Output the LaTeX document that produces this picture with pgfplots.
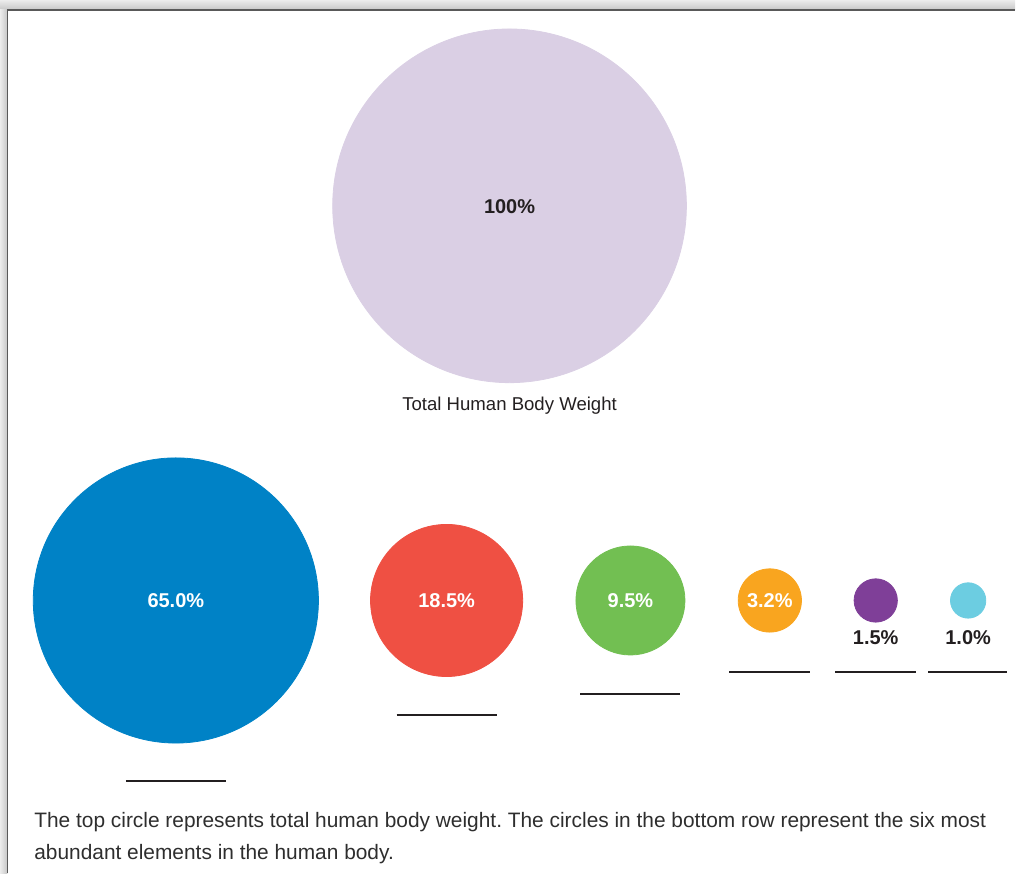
\documentclass[border=0pt]{standalone}
\usepackage{pgfplots}
\pgfplotsset{compat=1.18}
\usepackage{pgfplotstable}
\usepackage{fontspec}
\setmainfont{Liberation Sans}
\frenchspacing
\definecolor{lav}{HTML}{DACFE4}
\definecolor{cO}{HTML}{0082C6}
\definecolor{cC}{HTML}{EF5043}
\definecolor{cH}{HTML}{72BF52}
\definecolor{cN}{HTML}{F9A51F}
\definecolor{cCa}{HTML}{7F3F98}
\definecolor{cP}{HTML}{6CCDE1}
\definecolor{ink}{HTML}{231F20}
\definecolor{capt}{HTML}{2E2E2E}

% x, y in pixel units (y from bottom); pct = share of body weight
\pgfplotstableread{
x     y    pct   cls
510   668  100   T
176   273  65.0  O
447   273  18.5  C
631   273  9.5   H
770.5 273  3.2   N
876.5 273  1.5   Ca
969   273  1.0   P
}\circles

\begin{document}
\begin{tikzpicture}
\begin{axis}[
  width=508pt, height=437pt, scale only axis,
  xmin=0, xmax=1016, ymin=0, ymax=874,
  hide axis, clip=false,
]
% frame with shadow
\fill[top color=gray!15, bottom color=gray!45] (axis cs:0,864) rectangle (axis cs:1016,874);
\fill[left color=gray!15, right color=gray!45] (axis cs:0,0) rectangle (axis cs:7.5,864);
\draw[line width=0.9pt, black!65] (axis cs:7.5,0) -- (axis cs:7.5,864) -- (axis cs:1016,864);

\addplot[scatter, only marks, mark=*,
  point meta=explicit symbolic,
  scatter/classes={
    T={draw=lav, fill=lav},
    O={draw=cO, fill=cO},
    C={draw=cC, fill=cC},
    H={draw=cH, fill=cH},
    N={draw=cN, fill=cN},
    Ca={draw=cCa, fill=cCa},
    P={draw=cP, fill=cP}},
  visualization depends on={88.5*sqrt(\thisrow{pct}/100) \as \rad},
  scatter/@pre marker code/.append style={/tikz/mark size=\rad pt},
] table[x=x, y=y, meta=cls] {\circles};

% answer lines
\addplot[ink, line width=1pt] coordinates {(126,92.5) (226,92.5)};
\addplot[ink, line width=1pt] coordinates {(397,158.5) (497,158.5)};
\addplot[ink, line width=1pt] coordinates {(581,179.5) (681,179.5)};
\addplot[ink, line width=1pt] coordinates {(730,201.5) (811,201.5)};
\addplot[ink, line width=1pt] coordinates {(836,201.5) (917,201.5)};
\addplot[ink, line width=1pt] coordinates {(929,201.5) (1008,201.5)};

\coordinate (lT) at (axis cs:510,667);
\coordinate (lO) at (axis cs:176,273);
\coordinate (lC) at (axis cs:447,273);
\coordinate (lH) at (axis cs:631,273);
\coordinate (lN) at (axis cs:770.5,273);
\coordinate (lCa) at (axis cs:876.5,236);
\coordinate (lP) at (axis cs:969,236);
\coordinate (lTitle) at (axis cs:510,468);
\coordinate (lCap1) at (axis cs:34,46);
\coordinate (lCap2) at (axis cs:34,14);
\end{axis}

\begin{scope}[every node/.style={font=\fontsize{10}{12}\selectfont\bfseries}]
\node[text=ink] at (lT) {100\%};
\node[text=white] at (lO) {65.0\%};
\node[text=white] at (lC) {18.5\%};
\node[text=white] at (lH) {9.5\%};
\node[text=white] at (lN) {3.2\%};
\node[text=ink] at (lCa) {1.5\%};
\node[text=ink] at (lP) {1.0\%};
\end{scope}
\node[font=\fontsize{9.3}{11}\selectfont, text=ink] at (lTitle) {Total Human Body Weight};
\node[font=\fontsize{10.45}{12}\selectfont, text=capt, anchor=base west, inner sep=0pt] at (lCap1) {The top circle represents total human body weight. The circles in the bottom row represent the six most};
\node[font=\fontsize{10.45}{12}\selectfont, text=capt, anchor=base west, inner sep=0pt] at (lCap2) {abundant elements in the human body.};
\end{tikzpicture}
\end{document}
